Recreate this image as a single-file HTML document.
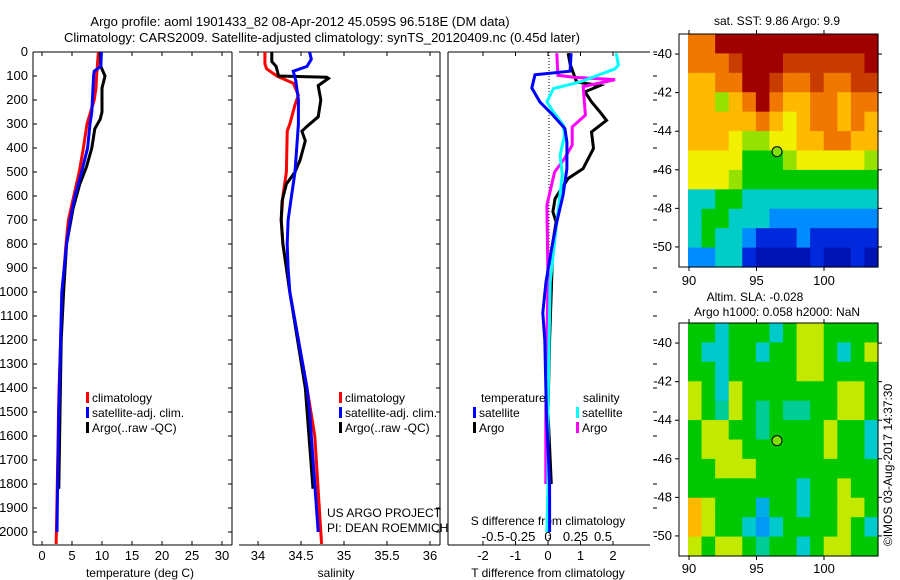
<!DOCTYPE html>
<html><head><meta charset="utf-8"><style>
html,body{margin:0;padding:0;background:#fff;}
svg{display:block;font-family:"Liberation Sans",sans-serif;}
text{font-size:12px;fill:#000;}
</style></head><body>
<svg id="fig" width="900" height="580" viewBox="0 0 900 580" xmlns="http://www.w3.org/2000/svg">
<text x="300" y="26" text-anchor="middle" style="font-size:13px">Argo profile: aoml 1901433_82 08-Apr-2012 45.059S 96.518E (DM data)</text>
<text x="322" y="42" text-anchor="middle" style="font-size:13px">Climatology: CARS2009. Satellite-adjusted climatology: synTS_20120409.nc (0.45d later)</text>
<text x="777" y="25" text-anchor="middle">sat. SST: 9.86 Argo: 9.9</text>
<text x="755" y="301" text-anchor="middle">Altim. SLA: -0.028</text>
<text x="777" y="316" text-anchor="middle">Argo h1000: 0.058 h2000: NaN</text>
<text transform="translate(892,465) rotate(-90)" text-anchor="middle">©IMOS 03-Aug-2017 14:37:30</text>
<g id="g"></g>
</svg>
<script>
// ---------- data ----------
const depthTicks = [0,100,200,300,400,500,600,700,800,900,1000,1100,1200,1300,1400,1500,1600,1700,1800,1900,2000];
const tempTicks = [0,5,10,15,20,25,30];
const salTicks = [34,34.5,35,35.5,36];
const tdiffTicks = [-2,-1,0,1,2];
const sdiffTicks = [-0.5,-0.25,0,0.25,0.5];

const climTdepth = [0,100,150,200,300,400,500,600,700,800,900,1000,1200,1400,1500,1600,1800,2000,2050];
const climT      = [9.4,9.1,9.0,8.7,7.5,6.9,6.2,5.3,4.4,4.0,3.7,3.4,3.1,2.85,2.75,2.7,2.55,2.4,2.35];
const satTdepth = [0,60,80,100,250,300,400,500,600,700,800,900,1000,1200,1500,1800,2000];
const satT      = [9.9,9.8,8.7,8.6,8.3,8.0,7.6,6.6,5.5,4.7,4.1,3.7,3.3,3.1,2.8,2.6,2.5];
const argoTdepth = [0,60,100,150,250,280,320,400,480,550,650,800,1000,1200,1500,1820];
const argoT      = [9.7,9.8,10.5,10.0,10.0,9.7,8.8,8.3,7.4,6.3,5.2,4.1,3.6,3.2,3.0,2.8];

const climSdepth = [0,50,70,100,130,180,220,300,330,500,600,700,800,900,1000,1400,1600,2000,2050];
const climS      = [34.08,34.08,34.10,34.22,34.41,34.47,34.43,34.37,34.34,34.33,34.29,34.27,34.29,34.33,34.37,34.57,34.66,34.73,34.74];
const satSdepth = [0,30,60,80,120,200,300,400,500,600,700,800,900,1000,1400,1500,2000];
const satS      = [34.60,34.62,34.57,34.41,34.44,34.47,34.47,34.45,34.43,34.39,34.35,34.34,34.35,34.37,34.57,34.60,34.70];
const argoSdepth = [0,40,60,100,105,110,140,200,270,310,330,370,450,500,550,620,700,800,900,1000,1400,1820];
const argoS      = [34.16,34.16,34.21,34.24,34.80,34.82,34.70,34.73,34.70,34.57,34.51,34.55,34.49,34.43,34.33,34.28,34.27,34.29,34.33,34.37,34.55,34.64];

const dTsatDepth = [5,80,95,150,208,263,319,375,486,597,708,819,958,1087,1200,1500,1800,2000];
const dTsat      = [0.71,0.68,-0.40,-0.50,-0.25,0.15,0.52,0.58,0.58,0.46,0.27,0.11,-0.06,-0.16,-0.10,-0.05,0.05,0.05];
const dTargoDepth = [5,50,125,140,166,208,250,285,333,402,486,527,611,666,708,791,958,1200,1500,1800];
const dTargo      = [0.62,0.68,0.88,1.6,1.14,1.34,1.6,1.8,1.34,1.4,1.08,0.62,0.22,0.15,0.25,0.15,0.11,0.05,0.0,0.1];
const dSsatDepth = [5,55,70,125,152,208,250,305,347,430,513,708,958,1200,1500,1800,2000];
const dSsat      = [0.62,0.64,0.61,0.29,0.05,-0.01,0.05,0.14,0.15,0.11,0.13,0.08,0.02,0.01,0.0,0.0,-0.01];
const dSargoDepth = [5,97,105,115,144,263,312,388,444,500,638,958,1200,1500,1800];
const dSargo      = [0.08,0.09,0.23,0.61,0.32,0.34,0.22,0.22,0.15,0.06,-0.01,0.0,-0.01,-0.02,-0.02];

const mapLatTicks = [-40,-42,-44,-46,-48,-50];
const mapLonTicks = [90,95,100];
const sstGrid = [
[8,8,10,10,10,10,10,10,10,10,10,10,10,10],
[8,8,8,9,10,10,10,9,9,9,9,9,9,10],
[7,7,8,8,10,10,9,8,8,9,8,8,9,9],
[7,7,5,7,8,10,8,7,7,8,8,7,8,8],
[7,7,7,7,7,8,7,6,7,8,8,7,8,7],
[7,7,7,6,5,5,6,6,7,7,8,8,7,7],
[6,6,6,6,4,4,4,5,6,6,6,6,6,5],
[6,6,6,5,4,4,4,4,4,4,4,4,4,4],
[3,3,4,4,3,3,3,3,3,3,3,3,3,3],
[3,4,4,3,3,3,2,2,2,2,2,2,2,2],
[3,4,3,3,2,1,1,1,2,1,1,1,1,1],
[2,2,3,3,1,0.5,0.5,0.5,0.5,1,0.5,0.5,1,0.5]];
const slaGrid = [
[5,5,4.3,5,5,5,4.3,5,6,6,5,5,5,5],
[5,4.3,4.3,5,5,4.3,5,5,6,6,5,4.3,5,6],
[5,5,4.3,5,5,5,5,5,6,6,5,5,5,5],
[6,5,4.3,6,5,5,5,5,5,5,5,6,6,5],
[6,5,4.5,6,5,4.5,5,4.5,4.5,5,5,6,6,5],
[5,6,6,5,5,4.5,5,5,5,5,6,5,5,4.3],
[5,6,6,6,5,5,5,5,5,5,6,5,5,4.3],
[5,5,6,6,6,5,5,5,5,5,5,5,5,5],
[5,5,5,5,5,5,5,5,4.3,5,5,6,5,5],
[7,6,5,5,5,4,5,5,4.3,5,5,6,6,5],
[7,6,5,5,4.3,3.8,4.3,5,5,5,5,6,5,4.3],
[6,5,6,6,5,4.5,5,5,4.3,5,6,6,5,5]];

// ---------- drawing ----------
const NS="http://www.w3.org/2000/svg";
const G=document.getElementById('g');
function mk(tag,attrs,parent){const e=document.createElementNS(NS,tag);for(const k in attrs)e.setAttribute(k,attrs[k]);(parent||G).appendChild(e);return e;}
const TOP=52, BOT=545, PXM=0.24;
const yD=d=>TOP+d*PXM;
const xT=v=>42+v*6;
const xS=v=>258+(v-34)*86;
const xDT=v=>548+v*32.5;
const xDS=v=>548+v*110;

function line(x1,y1,x2,y2,name,extra){const l=mk('line',Object.assign({x1,y1,x2,y2,stroke:'#000','stroke-width':1},extra||{}));

return l;}
function txt(x,y,s,name,anchor,size){const t=mk('text',{x,y,'text-anchor':anchor||'middle'});t.textContent=s;if(size)t.style.fontSize=size+'px';

return t;}
function profile(depths,vals,xf,color,name){
  let d='';for(let i=0;i<vals.length;i++){d+=(i?'L':'M')+xf(vals[i]).toFixed(1)+','+yD(depths[i]).toFixed(1);}
  const p=mk('path',{d,fill:'none',stroke:color,'stroke-width':3,'stroke-linejoin':'miter'});
  
  
}

line(33,TOP,232,TOP,'temp-frame-top');line(33,BOT,232,BOT,'temp-frame-bottom');
line(33,TOP,33,BOT,'temp-frame-left');line(232,TOP,232,BOT,'temp-frame-right');
line(239,TOP,440,TOP,'sal-frame-top');line(239,BOT,440,BOT,'sal-frame-bottom');line(440,TOP,440,BOT,'sal-frame-right');
line(448,TOP,650,TOP,'diff-frame-top');line(448,BOT,650,BOT,'diff-frame-bottom');line(448,TOP,448,BOT,'diff-frame-left');

depthTicks.forEach(d=>{const y=yD(d);
  line(33,y,37,y,'depth-tick');line(228,y,232,y,'depth-tick');line(436,y,440,y,'depth-tick');line(653,y,657,y,'depth-tick');
  txt(28,y+4,String(d),'depth-tick-label','end',13);});
tempTicks.forEach(v=>{const x=xT(v);line(x,TOP,x,TOP+4,'temp-tick');line(x,BOT,x,BOT-4,'temp-tick');txt(x,560,String(v),'temp-tick-label','middle',13);});
salTicks.forEach(v=>{const x=xS(v);line(x,TOP,x,TOP+4,'sal-tick');line(x,BOT,x,BOT-4,'sal-tick');txt(x,560,String(v),'sal-tick-label','middle',13);});
tdiffTicks.forEach(v=>{const x=xDT(v);line(x,TOP,x,TOP+4,'tdiff-tick');line(x,BOT,x,BOT-4,'tdiff-tick');txt(x,560,String(v),'tdiff-tick-label','middle',13);});
sdiffTicks.forEach(v=>{txt(xDS(v),541,String(v),'sdiff-tick-label','middle',13);});
txt(140,577,'temperature (deg C)','temp-axis-title');
txt(336,577,'salinity','sal-axis-title');
txt(548,577,'T difference from climatology','tdiff-axis-title');
txt(548,525,'S difference from climatology','sdiff-axis-title');
line(549,TOP,549,540,'zero-line',{'stroke-dasharray':'1,2'});

profile(climTdepth,climT,xT,'#f00','temp-climatology-line');
profile(argoTdepth,argoT,xT,'#000','temp-argo-line');
profile(satTdepth,satT,xT,'#00f','temp-satellite-line');
profile(climSdepth,climS,xS,'#f00','sal-climatology-line');
profile(argoSdepth,argoS,xS,'#000','sal-argo-line');
profile(satSdepth,satS,xS,'#00f','sal-satellite-line');
profile(dTargoDepth,dTargo,xDT,'#000','tdiff-argo-line');
profile(dSargoDepth,dSargo,xDS,'#f0f','sdiff-argo-line');
profile(dSsatDepth,dSsat,xDS,'#0ff','sdiff-satellite-line');
profile(dTsatDepth,dTsat,xDT,'#00f','tdiff-satellite-line');

function legend(x,y,color,label,name){const r=mk('rect',{x:x,y:y-10,width:3,height:11,fill:color});


txt(x+6,y,label,name,'start');}
[[86,'#f00','climatology'],[86,'#00f','satellite-adj. clim.'],[86,'#000','Argo(..raw -QC)']].forEach((l,i)=>legend(l[0],402+i*15,l[1],l[2],'temp-legend-entry'));
[[339,'#f00','climatology'],[339,'#00f','satellite-adj. clim.'],[339,'#000','Argo(..raw -QC)']].forEach((l,i)=>legend(l[0],402+i*15,l[1],l[2],'sal-legend-entry'));
txt(481,402,'temperature','diff-legend-temp-header','start');
txt(583,402,'salinity','diff-legend-sal-header','start');
legend(473,417,'#00f','satellite','diff-legend-tsat');
legend(473,432,'#000','Argo','diff-legend-targo');
legend(576,417,'#0ff','satellite','diff-legend-ssat');
legend(576,432,'#f0f','Argo','diff-legend-sargo');
txt(327,517,'US ARGO PROJECT','project-credit','start');
txt(327,532,'PI: DEAN ROEMMICH','pi-credit','start');

// maps
const PAL=[[0,0,140],[0,40,220],[0,140,255],[0,205,200],[0,200,0],[150,225,0],[240,240,0],[255,185,0],[240,120,0],[200,60,0],[160,0,0]];
function pal(v){v=Math.max(0,Math.min(10,v));const i=Math.min(9,Math.floor(v)),f=v-i;const a=PAL[i],b=PAL[i+1];
  return 'rgb('+a.map((c,k)=>Math.round(c+(b[k]-c)*f)).join(',')+')';}
function map(top,bot,grid,name,labY,scale){
  const L=679,R=878,D0=688;
  const lonX=lon=>689+(lon-90)*13.5;
  const latY=lat=>top+(bot-top)*((-38.96-lat)/12.08);
  const cw=(R-D0)/grid[0].length,ch=(bot-top)/grid.length;
  grid.forEach((row,i)=>row.forEach((v,j)=>{
    const c=mk('rect',{x:(D0+j*cw).toFixed(2),y:(top+i*ch).toFixed(2),width:(cw+0.6).toFixed(2),height:(ch+0.6).toFixed(2),fill:pal(scale(v))});
    
    }));
  const f=mk('rect',{x:L,y:top,width:R-L,height:bot-top,fill:'none',stroke:'#000'});
  
  
  mapLatTicks.forEach(la=>{const y=latY(la);line(L-4,y,L,y,name+'-lat-tick');line(R,y,R+4,y,name+'-lat-tick');txt(672,y+4,String(la),name+'-lat-label','end',13);});
  mapLonTicks.forEach(lo=>{const x=lonX(lo);line(x,top-4,x,top,name+'-lon-tick');line(x,bot,x,bot+4,name+'-lon-tick');txt(x,labY,String(lo),name+'-lon-label','middle',13);});
  const c=mk('circle',{cx:lonX(96.518),cy:latY(-45.059),r:5,fill:'#80e000',stroke:'#000'});
  
  
}
map(34,267,sstGrid,'sst-map',285,v=>v);
map(323,556,slaGrid,'sla-map',573,v=>(v-5)*1.5+4);
</script>
</body></html>
